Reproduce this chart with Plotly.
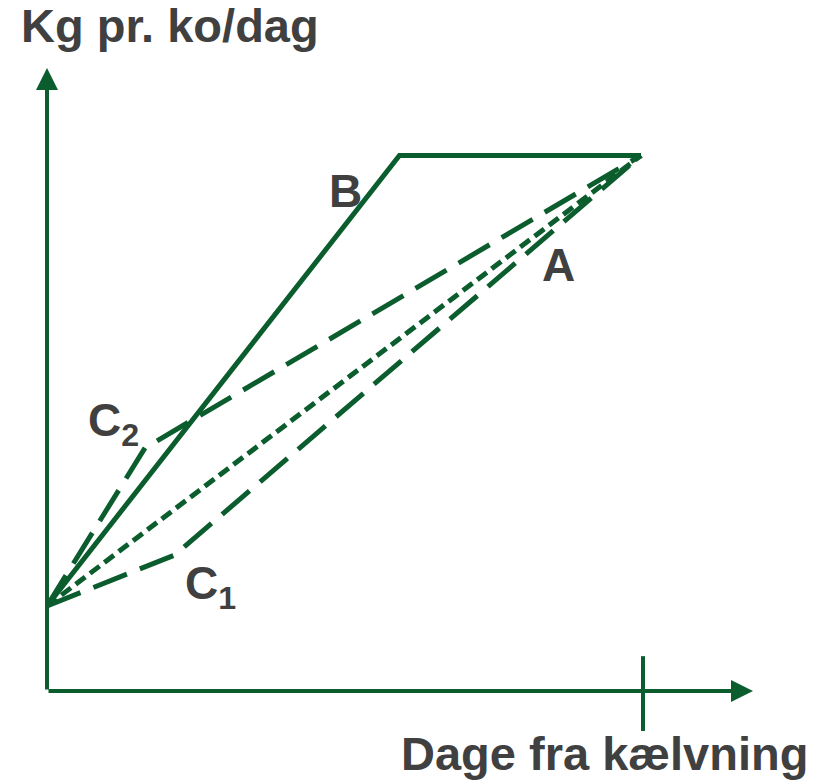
import plotly.graph_objects as go

# Laktationskurver: dage fra kælvning -> kg pr. ko/dag
dage_A = [0, 60]
kg_A = [10, 63]

dage_B = [0, 35.6, 60]
kg_B = [10, 63, 63]

dage_C1 = [0, 12.9, 60]
kg_C1 = [10, 16, 63]

dage_C2 = [0, 9.9, 60]
kg_C2 = [10, 28.6, 63]

peak_dag = 60.2

GREEN = '#0b5d2e'
GREY = '#404040'
FONT = 'Liberation Sans, Arial, sans-serif'

# siden har 8px body-margin, så figuren gøres lidt mindre
OFF = 8
W, H = 831 - OFF, 784 - OFF
# skala: pixel pr. enhed og origo i pixel (side-koordinater)
PX_DAG, PX_KG = 9.9, 8.5
X0, Y0 = 47 - OFF, 691 - OFF

fig = go.Figure()

fig.add_trace(go.Scatter(x=dage_B, y=kg_B, mode='lines',
                         line=dict(color=GREEN, width=5)))
fig.add_trace(go.Scatter(x=dage_A, y=kg_A, mode='lines',
                         line=dict(color=GREEN, width=5, dash='12px,6px')))
fig.add_trace(go.Scatter(x=dage_C1, y=kg_C1, mode='lines',
                         line=dict(color=GREEN, width=5, dash='36px,14px')))
fig.add_trace(go.Scatter(x=dage_C2, y=kg_C2, mode='lines',
                         line=dict(color=GREEN, width=5, dash='36px,14px')))

# akser med pile
x_end = (753 - 47) / PX_DAG
y_end = (691 - 68) / PX_KG
for (xe, ye) in [(0, y_end), (x_end, 0)]:
    fig.add_annotation(x=xe, y=ye, ax=0, ay=0, axref='x', ayref='y',
                       xref='x', yref='y', text='', showarrow=True,
                       arrowhead=2, arrowsize=1.1, arrowwidth=4, arrowcolor=GREEN)

# markering af top-dag
fig.add_shape(type='line', x0=peak_dag, x1=peak_dag, y0=4.1, y1=-4.7,
              line=dict(color=GREEN, width=4))


def lbl(text, px, py, size=46, anchor='center'):
    # px, py i side-koordinater
    fig.add_annotation(x=(px - OFF) / W, y=1 - (py - OFF) / H,
                       xref='paper', yref='paper',
                       text='<b>' + text + '</b>', showarrow=False,
                       xanchor=anchor, yanchor='middle',
                       font=dict(family=FONT, size=size, color=GREY))


lbl('Kg pr. ko/dag', 19, 25.5, size=47, anchor='left')
lbl('Dage fra kælvning', 399, 753.5, size=47, anchor='left')
lbl('B', 345, 191)
lbl('A', 558.5, 265.5)
lbl('C<sub>2</sub>', 113.5, 423)
lbl('C<sub>1</sub>', 210.5, 586)

fig.update_layout(
    width=W, height=H,
    margin=dict(l=0, r=0, t=0, b=0),
    plot_bgcolor='white', paper_bgcolor='white',
    showlegend=False,
    xaxis=dict(range=[-X0 / PX_DAG, (W - X0) / PX_DAG], visible=False),
    yaxis=dict(range=[-(H - Y0) / PX_KG, Y0 / PX_KG], visible=False),
)

fig.write_html('out.html')
